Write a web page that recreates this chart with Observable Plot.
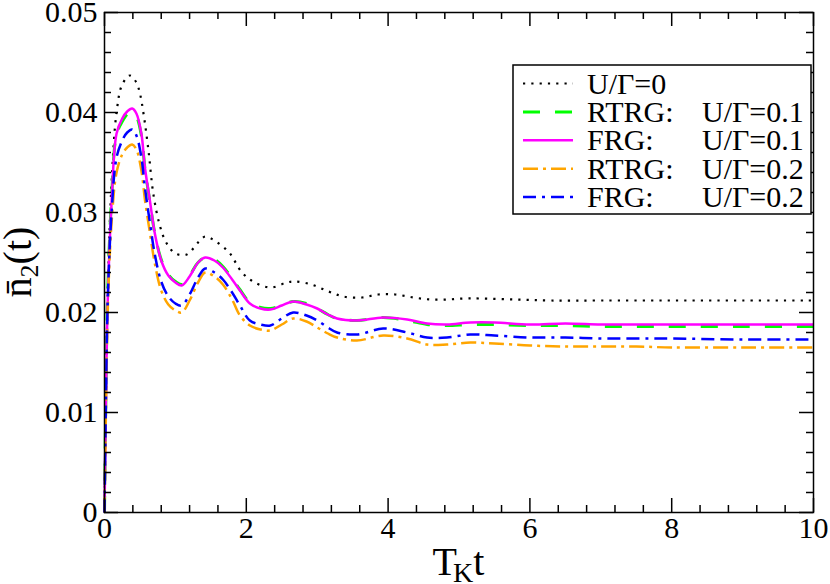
<!DOCTYPE html>
<html>
<head>
<meta charset="utf-8">
<script src="https://cdn.jsdelivr.net/npm/d3@7"></script>
<script src="https://cdn.jsdelivr.net/npm/@observablehq/plot@0.6"></script>
<style>
  html, body { margin: 0; padding: 0; background: white; }
  svg text, svg tspan { font-family: "Liberation Serif", "DejaVu Serif", "Times New Roman", serif !important; }
</style>
</head>
<body>
<div id="chart"></div>
<script>
// ---------- data ----------
const tU0 = [0, 0.02, 0.05, 0.1, 0.17, 0.25, 0.36, 0.45, 0.5, 0.55, 0.62, 0.69, 0.78, 0.87, 1.0, 1.16, 1.32, 1.42, 1.53, 1.65, 1.77, 1.94, 2.12, 2.35, 2.57, 2.69, 2.92, 3.16, 3.37, 3.63, 3.86, 4.1, 4.36, 4.59, 4.83, 5.06, 5.3, 5.8, 6.3, 7, 8, 9, 10];
const nU0 = [0, 0.012, 0.023, 0.033, 0.040, 0.0428, 0.0437, 0.0430, 0.0419, 0.0399, 0.0362, 0.0318, 0.0287, 0.0270, 0.0259, 0.0258, 0.0270, 0.0276, 0.0273, 0.0267, 0.0259, 0.0240, 0.0230, 0.0225, 0.0230, 0.0231, 0.0228, 0.0221, 0.0216, 0.0215, 0.0218, 0.0218, 0.0215, 0.0213, 0.0213, 0.0214, 0.0214, 0.0213, 0.0212, 0.0212, 0.0212, 0.0212, 0.0212];

const tGrid = [0, 0.02, 0.045, 0.1, 0.17, 0.25, 0.32, 0.39, 0.45, 0.52, 0.57, 0.64, 0.71, 0.8, 0.9, 1.0, 1.09, 1.2, 1.32, 1.42, 1.55, 1.67, 1.8, 1.91, 2.05, 2.2, 2.34, 2.5, 2.66, 2.85, 3.0, 3.15, 3.28, 3.56, 3.93, 4.27, 4.55, 4.83, 5.16, 5.5, 6.0, 6.5, 7, 7.5, 8, 9, 10];
const nRTRG01 = [0, 0.012, 0.022, 0.0315, 0.0378, 0.0391, 0.0398, 0.0400, 0.0396, 0.0377, 0.0344, 0.0311, 0.0279, 0.0253, 0.0238, 0.0231, 0.0228, 0.0237, 0.0250, 0.0255, 0.0253, 0.0246, 0.0234, 0.0223, 0.0210, 0.0205, 0.0204, 0.0207, 0.0211, 0.0209, 0.0204, 0.0198, 0.0194, 0.0192, 0.0195, 0.0192, 0.0188, 0.0187, 0.0188, 0.0188, 0.0187, 0.0187, 0.0186, 0.0186, 0.0186, 0.0186, 0.0186];
const nFRG01 = [0, 0.011, 0.021, 0.031, 0.0379, 0.0394, 0.0401, 0.0404, 0.0399, 0.0379, 0.0345, 0.0312, 0.0279, 0.0252, 0.0237, 0.0230, 0.0227, 0.0236, 0.0250, 0.0255, 0.0252, 0.0245, 0.0233, 0.0222, 0.0209, 0.0204, 0.0203, 0.0207, 0.0211, 0.0208, 0.0204, 0.0198, 0.0194, 0.0192, 0.0195, 0.0193, 0.0189, 0.0188, 0.0190, 0.0190, 0.0188, 0.0189, 0.0188, 0.0188, 0.0188, 0.0188, 0.0188];
const nRTRG02 = [0, 0.010, 0.020, 0.029, 0.0340, 0.0358, 0.0365, 0.0368, 0.0363, 0.0342, 0.0313, 0.0280, 0.0249, 0.0222, 0.0208, 0.0202, 0.0200, 0.0212, 0.0230, 0.0240, 0.0236, 0.0228, 0.0213, 0.0197, 0.0187, 0.0183, 0.0182, 0.0188, 0.0194, 0.0191, 0.0185, 0.0179, 0.0175, 0.0172, 0.0177, 0.0174, 0.0168, 0.0168, 0.0170, 0.0169, 0.0167, 0.0166, 0.0166, 0.0166, 0.0165, 0.0165, 0.0165];
const nFRG02 = [0, 0.011, 0.021, 0.030, 0.0355, 0.0372, 0.0380, 0.0383, 0.0377, 0.0355, 0.0325, 0.0290, 0.0258, 0.0231, 0.0216, 0.0209, 0.0207, 0.0218, 0.0235, 0.0244, 0.0240, 0.0233, 0.0220, 0.0207, 0.0192, 0.0188, 0.0187, 0.0194, 0.0200, 0.0197, 0.0192, 0.0185, 0.0180, 0.0178, 0.0184, 0.0180, 0.0175, 0.0175, 0.0178, 0.0177, 0.0175, 0.0175, 0.0174, 0.0174, 0.0174, 0.0173, 0.0173];

const xMajor = [0, 2, 4, 6, 8, 10];
const xMinor = [0.4, 0.8, 1.2, 1.6, 2.4, 2.8, 3.2, 3.6, 4.4, 4.8, 5.2, 5.6, 6.4, 6.8, 7.2, 7.6, 8.4, 8.8, 9.2, 9.6];
const yMajor = [0, 0.01, 0.02, 0.03, 0.04, 0.05];
const yMinor = [0.002, 0.004, 0.006, 0.008, 0.012, 0.014, 0.016, 0.018, 0.022, 0.024, 0.026, 0.028, 0.032, 0.034, 0.036, 0.038, 0.042, 0.044, 0.046, 0.048];

const seriesPrefix = ["", "RTRG:", "FRG:", "RTRG:", "FRG:"];
const seriesValue = ["U/Γ=0", "U/Γ=0.1", "U/Γ=0.1", "U/Γ=0.2", "U/Γ=0.2"];

// ---------- styles ----------
const styles = [
  {stroke: "#000000", strokeWidth: 2.2, strokeDasharray: "2.2 6.1", strokeLinecap: "butt"},
  {stroke: "#00ff00", strokeWidth: 3, strokeDasharray: "17 15", strokeLinecap: "butt"},
  {stroke: "#ff00ff", strokeWidth: 2.5, strokeDasharray: null, strokeLinecap: "butt"},
  {stroke: "#ffa500", strokeWidth: 2.5, strokeDasharray: "15 5 3 5", strokeLinecap: "butt"},
  {stroke: "#0000ff", strokeWidth: 2.5, strokeDasharray: "13 6 3 6 13 6", strokeLinecap: "butt"}
];

const seriesData = [
  tU0.map((t, i) => ({t, n: nU0[i]})),
  tGrid.map((t, i) => ({t, n: nRTRG01[i]})),
  tGrid.map((t, i) => ({t, n: nFRG01[i]})),
  tGrid.map((t, i) => ({t, n: nRTRG02[i]})),
  tGrid.map((t, i) => ({t, n: nFRG02[i]}))
];

const W = 830, H = 584;
const mL = 104, mR = 17, mT = 12, mB = 72;
const iW = W - mL - mR, iH = H - mT - mB;
const majLen = 14, minLen = 7;
const font = "Liberation Serif, DejaVu Serif, serif";

const plot = Plot.plot({
  width: W,
  height: H,
  marginLeft: mL,
  marginRight: mR,
  marginTop: mT,
  marginBottom: mB,
  style: {fontFamily: font, fontSize: "30px", background: "white", color: "black", overflow: "visible"},
  x: {domain: [0, 10]},
  y: {domain: [0, 0.05]},
  marks: [
    ...seriesData.map((d, i) => Plot.line(d, {x: "t", y: "n", curve: "catmull-rom", ...styles[i]})),
    // inward ticks on all four sides
    Plot.tickX(xMajor, {x: d => d, insetTop: iH - majLen, stroke: "black", strokeWidth: 1.5}),
    Plot.tickX(xMinor, {x: d => d, insetTop: iH - minLen, stroke: "black", strokeWidth: 1.5}),
    Plot.tickX(xMajor, {x: d => d, insetBottom: iH - majLen, stroke: "black", strokeWidth: 1.5}),
    Plot.tickX(xMinor, {x: d => d, insetBottom: iH - minLen, stroke: "black", strokeWidth: 1.5}),
    Plot.tickY(yMajor, {y: d => d, insetRight: iW - majLen, stroke: "black", strokeWidth: 1.5}),
    Plot.tickY(yMinor, {y: d => d, insetRight: iW - minLen, stroke: "black", strokeWidth: 1.5}),
    Plot.tickY(yMajor, {y: d => d, insetLeft: iW - majLen, stroke: "black", strokeWidth: 1.5}),
    Plot.tickY(yMinor, {y: d => d, insetLeft: iW - minLen, stroke: "black", strokeWidth: 1.5}),
    Plot.frame({stroke: "black", strokeWidth: 1.5}),
    Plot.axisX({ticks: xMajor, tickSize: 0, tickPadding: 4, tickFormat: d3.format("d"), label: null, fontSize: 30, fontFamily: font}),
    Plot.axisY({ticks: yMajor, tickSize: 0, tickPadding: 7, tickFormat: d => d === 0 ? "0" : d.toFixed(2), label: null, fontSize: 30, fontFamily: font})
  ]
});

document.getElementById("chart").appendChild(plot);

const svg = d3.select(plot);

// x-axis label: T_K t
const xl = svg.append("text")
  .attr("x", mL + iW / 2).attr("y", 575)
  .attr("text-anchor", "middle")
  .attr("font-family", font).attr("font-size", 40).attr("fill", "black");
xl.append("tspan").text("T");
xl.append("tspan").attr("font-size", 28).attr("dy", 7).attr("dx", -4).text("K");
xl.append("tspan").attr("font-size", 40).attr("dy", -7).text("t");

// y-axis label: n̄_2(t)
const yl = svg.append("text")
  .attr("transform", `translate(31, ${mT + iH / 2}) rotate(-90)`)
  .attr("text-anchor", "middle")
  .attr("font-family", font).attr("font-size", 40).attr("fill", "black");
yl.append("tspan").text("n\u0304");
yl.append("tspan").attr("font-size", 26).attr("dy", 7).text("2");
yl.append("tspan").attr("font-size", 40).attr("dy", -7).text("(t)");

// legend
const lg = svg.append("g").attr("text-anchor", "start");
lg.append("rect").attr("x", 513).attr("y", 65).attr("width", 298).attr("height", 149)
  .attr("fill", "white").attr("stroke", "black").attr("stroke-width", 1.5);
seriesValue.forEach((v, i) => {
  const base = 93.5 + i * 28.4;
  const s = styles[i];
  lg.append("line").attr("x1", 523).attr("x2", 573).attr("y1", base - 10).attr("y2", base - 10)
    .attr("stroke", s.stroke).attr("stroke-width", s.strokeWidth)
    .attr("stroke-dasharray", s.strokeDasharray).attr("stroke-linecap", "butt");
  const txt = (x, str) => lg.append("text").attr("x", x).attr("y", base)
    .attr("text-anchor", "start")
    .attr("font-family", font).attr("font-size", 30).attr("fill", "black").text(str);
  if (seriesPrefix[i]) {
    txt(587, seriesPrefix[i]);
    txt(702, v);
  } else {
    txt(587, v);
  }
});
</script>
</body>
</html>
